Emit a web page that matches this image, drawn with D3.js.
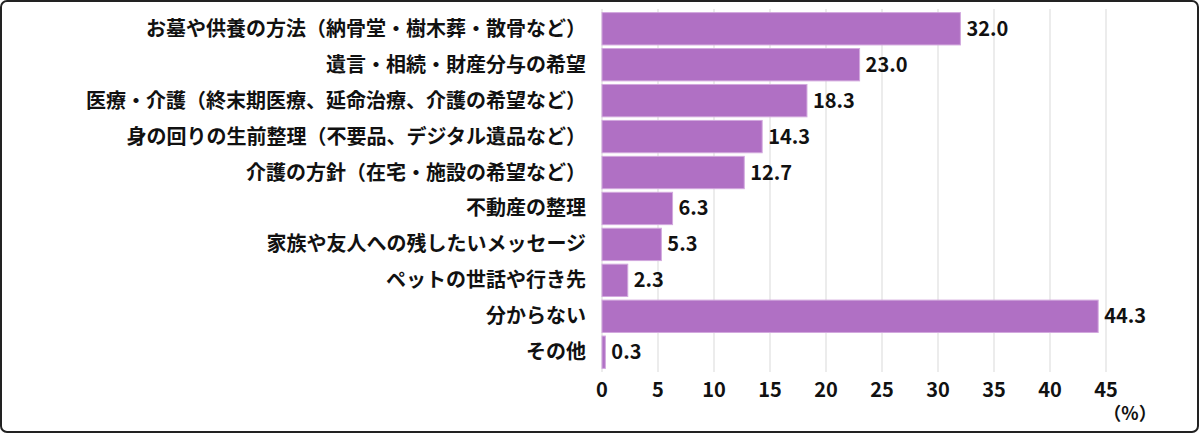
<!DOCTYPE html>
<html><head><meta charset="utf-8">
<script src="https://cdn.jsdelivr.net/npm/d3@7"></script>
<style>body{margin:0;background:#fff}svg{display:block}</style>
</head><body><svg id="c" width="1200" height="434"></svg>
<script>
const categories = ["お墓や供養の方法（納骨堂・樹木葬・散骨など）","遺言・相続・財産分与の希望","医療・介護（終末期医療、延命治療、介護の希望など）","身の回りの生前整理（不要品、デジタル遺品など）","介護の方針（在宅・施設の希望など）","不動産の整理","家族や友人への残したいメッセージ","ペットの世話や行き先","分からない","その他"];
const values = [32.0,23.0,18.3,14.3,12.7,6.3,5.3,2.3,44.3,0.3];
const ticks = [0,5,10,15,20,25,30,35,40,45];

const svg = d3.select("#c");
const font = "'Noto Sans CJK JP', sans-serif";
svg.append("rect").attr("x",1).attr("y",1).attr("width",1197).attr("height",431)
  .attr("rx",6).attr("fill","#fff").attr("stroke","#222").attr("stroke-width",2);

const x = d3.scaleLinear().domain([0,45]).range([602,1106]);
const y = d3.scaleBand().domain(categories).range([9,372]).padding(0.1);

svg.append("g").selectAll("line").data(ticks).enter().append("line")
  .attr("x1",d=>x(d)).attr("x2",d=>x(d)).attr("y1",9).attr("y2",372)
  .attr("stroke","#d9d9d9").attr("stroke-width",1);

svg.append("g").selectAll("rect").data(values).enter().append("rect")
  .attr("x",x(0)).attr("y",(d,i)=>y(categories[i]))
  .attr("width",d=>x(d)-x(0)).attr("height",y.bandwidth())
  .attr("fill","#b070c4").attr("stroke","#d2a8de").attr("stroke-width",1);

svg.append("g").selectAll("text").data(values).enter().append("text")
  .attr("x",d=>x(d)+6).attr("y",(d,i)=>y(categories[i])+y.bandwidth()/2)
  .attr("dy","0.35em").attr("font-family",font).attr("font-weight","bold")
  .attr("font-size",20).attr("fill","#111").text(d=>d.toFixed(1));

svg.append("g").selectAll("text").data(categories).enter().append("text")
  .attr("x",586).attr("y",d=>y(d)+y.bandwidth()/2).attr("dy","0.35em")
  .attr("text-anchor","end").attr("font-family",font).attr("font-weight","bold")
  .attr("font-size",20).attr("fill","#111").text(d=>d);

svg.append("g").selectAll("text").data(ticks).enter().append("text")
  .attr("x",d=>x(d)).attr("y",390).attr("dy","0.35em").attr("text-anchor","middle")
  .attr("font-family",font).attr("font-weight","bold").attr("font-size",20)
  .attr("fill","#111").text(d=>d);

svg.append("text").attr("x",1130).attr("y",420).attr("text-anchor","middle")
  .attr("font-family",font).attr("font-weight","bold").attr("font-size",18)
  .attr("fill","#111").text("（%）");
</script></body></html>
